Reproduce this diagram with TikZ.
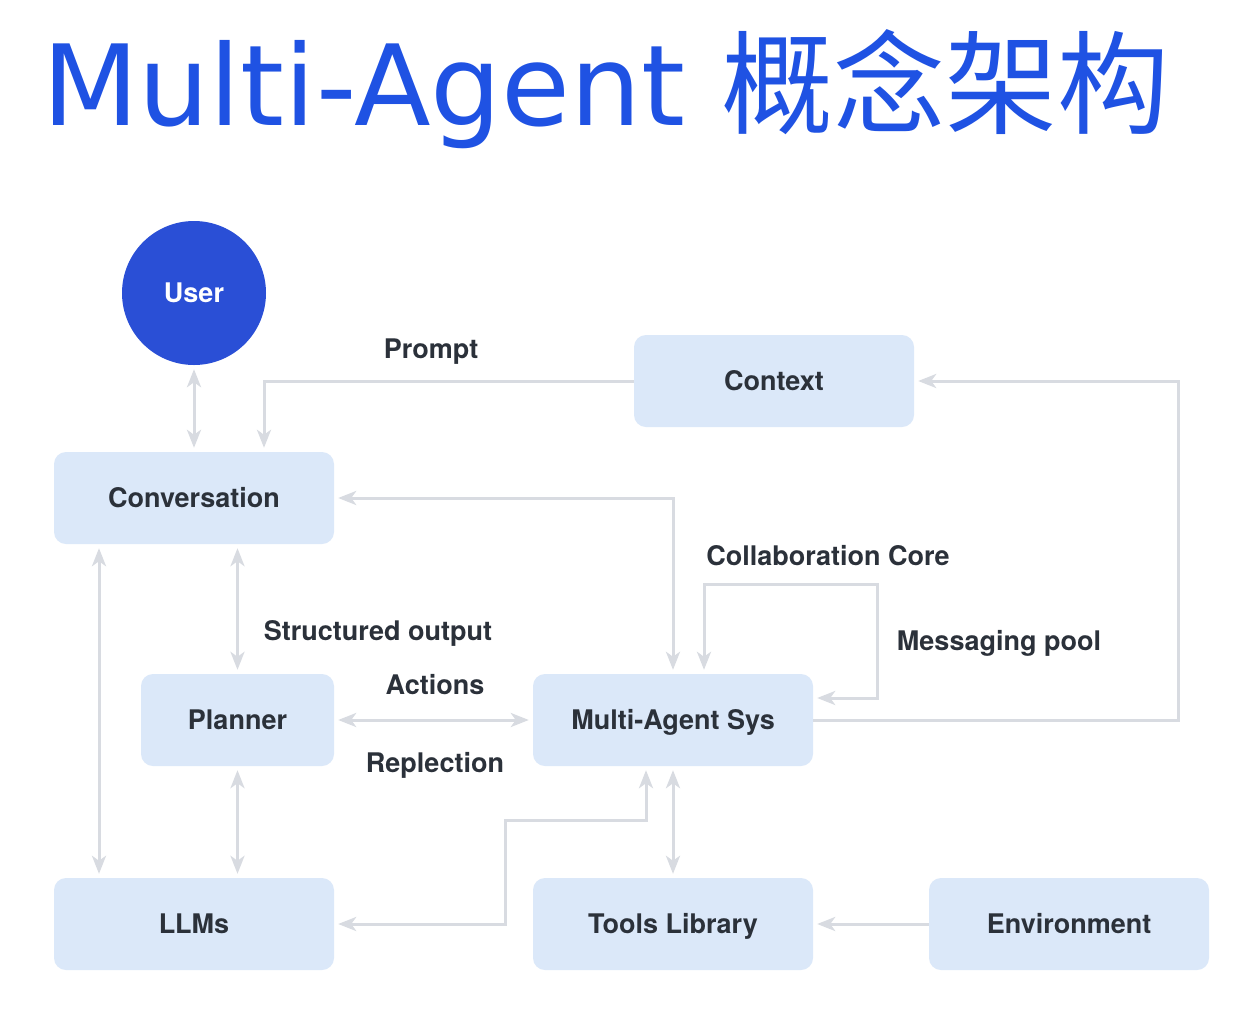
\documentclass[tikz,border=0pt]{standalone}
\usepackage{fontspec}
\setmainfont{TeX Gyre Heros}
\newfontfamily\titlefont{DejaVu Sans}
\newfontfamily\cjk{Noto Sans CJK SC}
\usetikzlibrary{arrows.meta}
\definecolor{boxfill}{HTML}{DBE8F9}
\definecolor{userblue}{HTML}{2A4FD6}
\definecolor{titleblue}{HTML}{1F52E3}
\definecolor{linegray}{HTML}{D8DBE1}
\definecolor{textdark}{HTML}{2B313A}
\begin{document}
\begin{tikzpicture}[x=1pt,y=-1pt,
  >={Stealth[length=18pt,width=14pt,inset=5pt]},
  box/.style={rounded corners=12pt, fill=boxfill, minimum width=280pt, minimum height=92pt,
    inner sep=0pt, text height=19.5pt, text depth=0pt,
    font=\fontsize{27}{30}\selectfont\bfseries, text=textdark},
  lbl/.style={font=\fontsize{27}{30}\selectfont\bfseries, text=textdark, inner sep=0pt,
    text height=19.5pt, text depth=0pt},
  conn/.style={draw=linegray, line width=3pt, shorten >=4pt, shorten <=4pt}]
\fill[white] (0,0) rectangle (1243,1010);
\useasboundingbox (0,0) rectangle (1243,1010);

\node[anchor=base west, inner sep=0pt, text=titleblue, font=\fontsize{112}{120}\selectfont]
  (title) at (42,125) {\titlefont Multi-Agent \cjk 概念架构};

\node[circle, fill=userblue, minimum size=144pt, inner sep=0pt, text=white,
  text height=19.5pt, text depth=0pt,
  font=\fontsize{27}{30}\selectfont\bfseries] (user) at (194,293) {User};
\node[box] (ctx) at (774,381) {Context};
\node[box] (conv) at (194,498) {Conversation};
\node[box, minimum width=193pt] (plan) at (237.5,720) {Planner};
\node[box] (mas) at (673,720) {Multi-Agent Sys};
\node[box] (llm) at (194,924) {LLMs};
\node[box] (tools) at (673,924) {Tools Library};
\node[box] (env) at (1069,924) {Environment};

\coordinate (c1) at (877,584);
\coordinate (c2) at (1178,381);
\coordinate (c3) at (505,820);

\draw[conn,<->] (user.south) -- (conv.north);
\draw[conn,->,shorten <=0pt] (ctx.west) -| ([xshift=70pt]conv.north);
\draw[conn,<->] (conv.east) -| (mas.north);
\draw[conn,<->] ([xshift=31pt]mas.north) |- (c1) |- ([yshift=22pt]mas.east);
\draw[conn,->,shorten <=0pt] (mas.east) -| (c2) -- (ctx.east);
\draw[conn,<->] (conv.south -| plan.north) -- (plan.north);
\draw[conn,<->] ([xshift=-95pt]conv.south) -- ([xshift=-95pt]llm.north);
\draw[conn,<->] (plan.east) -- (mas.west);
\draw[conn,<->] (plan.south) -- (plan.south |- llm.north);
\draw[conn,<->] ([xshift=-27pt]mas.south) |- (c3) |- (llm.east);
\draw[conn,<->] (mas.south) -- (tools.north);
\draw[conn,->,shorten <=0pt] (env.west) -- (tools.east);

\node[lbl] (lprompt) at (431,349) {Prompt};
\node[lbl] (lstruct) at (378,631) {Structured output};
\node[lbl] (lact) at (435,685) {Actions};
\node[lbl] (lrep) at (435,763) {Replection};
\node[lbl] (lcoll) at (828,556) {Collaboration Core};
\node[lbl] (lmsg) at (999,641) {Messaging pool};
\end{tikzpicture}
\end{document}
